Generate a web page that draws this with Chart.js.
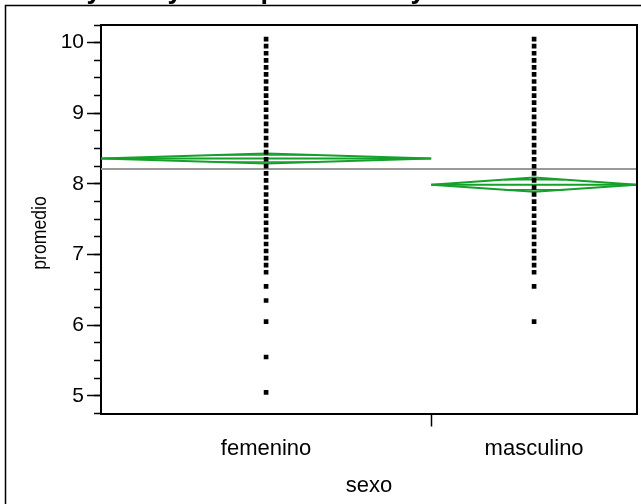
<!DOCTYPE html>
<html>
<head>
<meta charset="utf-8">
<script src="https://cdn.jsdelivr.net/npm/chart.js@4"></script>
<style>
  html, body { margin: 0; padding: 0; background: #fff; overflow: hidden; }
  canvas { display: block; }
</style>
</head>
<body>
<canvas id="chart" width="641" height="504"></canvas>
<script>
// Oneway analysis: promedio by sexo
const groups = ['femenino', 'masculino'];
// relative group sizes; each group's band on the x axis is this wide
const groupShare = [0.616, 0.384];
const femeninoValues = [10.05, 9.95, 9.85, 9.75, 9.65, 9.55, 9.45, 9.35, 9.25, 9.15,
  9.05, 8.95, 8.85, 8.75, 8.65, 8.55, 8.45, 8.35, 8.25, 8.15,
  8.05, 7.95, 7.85, 7.75, 7.65, 7.55, 7.45, 7.35, 7.25, 7.15,
  7.05, 6.95, 6.85, 6.75, 6.55, 6.35, 6.05, 5.55, 5.05];
const masculinoValues = [10.05, 9.95, 9.85, 9.75, 9.65, 9.55, 9.45, 9.35, 9.25, 9.15,
  9.05, 8.95, 8.85, 8.75, 8.65, 8.55, 8.45, 8.35, 8.25, 8.15,
  8.05, 7.95, 7.85, 7.75, 7.65, 7.55, 7.45, 7.35, 7.25, 7.15,
  7.05, 6.95, 6.85, 6.75, 6.55, 6.05];
const groupMeans = [8.36, 7.99];
const ciLower = [8.29, 7.89];
const ciUpper = [8.43, 8.09];
const grandMean = 8.21;
const yTickValues = [5, 6, 7, 8, 9, 10];
const yRange = [4.75, 10.25];

const GREEN = '#14a02a';
const FONT = '"Liberation Sans", Arial, sans-serif';

// band edges and centres on a 0..1 x axis
const edges = [0];
groupShare.forEach((s, i) => edges.push(edges[i] + s));
const centers = groups.map((g, i) => (edges[i] + edges[i + 1]) / 2);
const groupValues = [femeninoValues, masculinoValues];

const datasets = [];

// grand mean across both groups
datasets.push({
  type: 'line',
  data: [{ x: 0, y: grandMean }, { x: 1, y: grandMean }],
  borderColor: '#999999',
  borderWidth: 2,
  pointRadius: 0,
  order: 3
});

// means diamonds with their mean line and overlap marks
groups.forEach((g, i) => {
  const l = edges[i], r = edges[i + 1], c = centers[i];
  const m = groupMeans[i], lo = ciLower[i], hi = ciUpper[i];
  const k = Math.SQRT1_2;
  const w = (r - l) / 2 * (1 - k);
  const lineStyle = { type: 'line', borderColor: GREEN, pointRadius: 0, order: 2, tension: 0 };
  datasets.push(Object.assign({}, lineStyle, {
    borderWidth: 2,
    data: [{ x: l, y: m }, { x: c, y: hi }, { x: r, y: m }, { x: c, y: lo }, { x: l, y: m }]
  }));
  datasets.push(Object.assign({}, lineStyle, {
    borderWidth: 2,
    data: [{ x: l, y: m }, { x: r, y: m }]
  }));
  datasets.push(Object.assign({}, lineStyle, {
    borderWidth: 1.5,
    data: [{ x: c - w, y: m + (hi - m) * k }, { x: c + w, y: m + (hi - m) * k }]
  }));
  datasets.push(Object.assign({}, lineStyle, {
    borderWidth: 1.5,
    data: [{ x: c - w, y: m - (m - lo) * k }, { x: c + w, y: m - (m - lo) * k }]
  }));
});

// individual observations
groups.forEach((g, i) => {
  datasets.push({
    type: 'scatter',
    data: groupValues[i].map(v => ({ x: centers[i], y: v })),
    pointStyle: 'rect',
    pointRadius: 3.3,
    pointBackgroundColor: '#000',
    pointBorderWidth: 0,
    order: 1
  });
});

const framePlugin = {
  id: 'frame',
  afterDraw(chart) {
    const { ctx, chartArea: a } = chart;
    ctx.save();
    // top and right edges of the plot box
    ctx.strokeStyle = '#000';
    ctx.lineWidth = 2;
    ctx.beginPath();
    ctx.moveTo(a.left, a.top);
    ctx.lineTo(a.right, a.top);
    ctx.lineTo(a.right, a.bottom);
    ctx.stroke();
    // report frame
    ctx.lineWidth = 1.5;
    ctx.beginPath();
    ctx.moveTo(5.5, 504);
    ctx.lineTo(5.5, 5.5);
    ctx.lineTo(641, 5.5);
    ctx.stroke();
    // report heading
    ctx.fillStyle = '#000';
    ctx.font = 'bold 27px ' + FONT;
    ctx.textBaseline = 'alphabetic';
    ctx.fillText('Oneway Analysis of promedio By sexo', -2, -2);
    // y axis title, set in a condensed face
    ctx.font = '21px ' + FONT;
    ctx.textAlign = 'center';
    ctx.textBaseline = 'middle';
    ctx.translate(40, 233);
    ctx.rotate(-Math.PI / 2);
    ctx.scale(0.84, 1);
    ctx.fillText('promedio', 0, 0);
    ctx.restore();
  }
};

new Chart(document.getElementById('chart'), {
  type: 'scatter',
  data: { datasets },
  plugins: [framePlugin],
  options: {
    responsive: false,
    animation: false,
    layout: { padding: { left: 0, top: 25, right: 3, bottom: 0 } },
    plugins: { legend: { display: false }, tooltip: { enabled: false } },
    scales: {
      x: {
        type: 'linear',
        position: 'bottom',
        min: 0,
        max: 1,
        afterBuildTicks: s => { s.ticks = [centers[0], edges[1], centers[1]].map(v => ({ value: v })); },
        afterFit: s => { s.height = 90.5; },
        ticks: {
          autoSkip: false,
          maxRotation: 0,
          padding: 9,
          color: '#000',
          font: { family: FONT, size: 22 },
          callback: (v) => { const i = centers.indexOf(v); return i >= 0 ? groups[i] : ''; }
        },
        grid: {
          drawOnChartArea: false,
          tickLength: 13,
          tickWidth: 1.5,
          tickColor: ctx => (ctx.index === 1 ? '#000' : 'rgba(0,0,0,0)')
        },
        border: { color: '#000', width: 2 },
        title: {
          display: true,
          text: 'sexo',
          color: '#000',
          font: { family: FONT, size: 22 },
          padding: { top: 0, bottom: 5 }
        }
      },
      y: {
        type: 'linear',
        position: 'left',
        min: yRange[0],
        max: yRange[1],
        afterBuildTicks: s => { s.ticks = yTickValues.map(v => ({ value: v })); },
        afterFit: s => { s.width = 101; },
        ticks: {
          padding: 3,
          color: '#000',
          font: { family: FONT, size: 21 }
        },
        grid: { drawOnChartArea: false, tickLength: 14, tickWidth: 1.5, tickColor: '#000' },
        border: { color: '#000', width: 2 }
      },
      yMinor: {
        axis: 'y',
        type: 'linear',
        position: { x: 0 },
        min: yRange[0],
        max: yRange[1],
        afterBuildTicks: s => {
          const t = [];
          for (let v = yRange[0]; v <= yRange[1] + 1e-9; v += 0.25) t.push({ value: v });
          s.ticks = t;
        },
        ticks: { display: false },
        grid: { drawOnChartArea: false, tickLength: 7, tickWidth: 1.5, tickColor: '#000' },
        border: { display: false }
      }
    }
  }
});
</script>
</body>
</html>
